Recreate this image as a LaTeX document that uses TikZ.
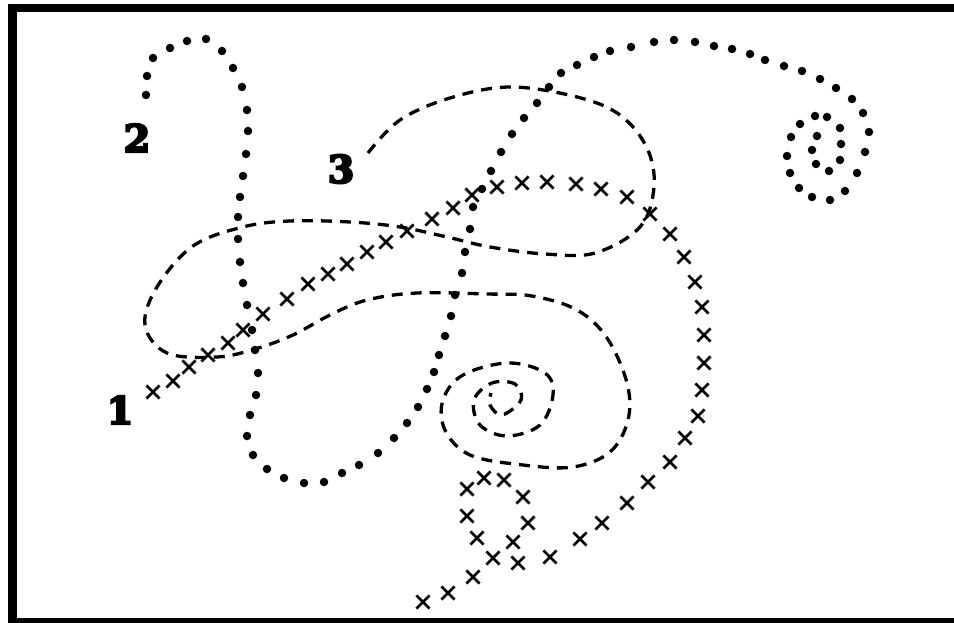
\documentclass[tikz,border=0pt]{standalone}
\usepackage{fontspec}
\newfontfamily\digitfont{DejaVu Serif}[BoldFeatures={FakeBold=6}]
\usetikzlibrary{shapes.misc}
\tikzset{
dotmark/.style={circle,fill,inner sep=0pt,minimum size=8.5pt},
crossmark/.style={cross out,draw,line width=2.7pt,inner sep=0pt,minimum size=10.5pt},
dashcurve/.style={line width=3.3pt,dash pattern=on 11pt off 8pt},
digit/.style={font=\digitfont\bfseries\fontsize{38}{38}\selectfont,inner sep=0pt}
}
\begin{document}
\begin{tikzpicture}[x=1pt,y=-1pt]
\useasboundingbox (0,0) rectangle (954,623);
\clip (0,0) rectangle (954,623);
\fill[white] (0,0) rectangle (954,623);
% frame
\draw[line width=8.5pt] (12.5,8) rectangle (962,622);
% labels
\node[digit] (one) at (120,410) {1};
\node[digit] (two) at (137,138) {2};
\node[digit] (three) at (341,169) {3};
% curve 1: crosses
\foreach \p [count=\i] in {(153,392),(173,381),(189,367),(208,355),(228,343),(243,330),(263,314),(287,299),(308,284),(328,274),(347,264),(367,252),(386,242),(407,231),(432,219),(453,208),(472,195),(497,187),(522,183),(547,182),(576,184),(601,189),(627,197),(650,214),(670,234),(684,257),(695,282),(702,307),(704,335),(704,363),(702,390),(698,416),(685,438),(670,462),(648,482),(627,503),(602,523),(580,539),(550,557),(518,563),(493,558),(477,538),(467,516),(467,489),(484,478),(504,480),(523,497),(528,523),(513,542),(473,577),(448,593),(423,602)}
  \node[crossmark] (c\i) at \p {};
% curve 2: dots
\foreach \p [count=\i] in {(146,95),(147,76),(153,58),(170,48),(187,41),(206,39),(222,51),(233,68),(242,87),(247,110),(248,131),(246,154),(243,176),(240,197),(238,217),(238,239),(240,262),(243,283),(247,305),(252,330),(255,350),(258,373),(256,395),(250,415),(247,436),(253,455),(267,469),(284,478),(304,483),(324,482),(342,473),(359,465),(378,453),(394,438),(407,423),(418,407),(427,389),(434,372),(439,355),(445,336),(451,316),(455,295),(462,273),(465,252),(470,229),(473,207),(482,189),(491,171),(501,152),(512,134),(524,118),(537,103),(549,87),(561,73),(577,65),(594,57),(610,51),(631,47),(654,42),(674,40),(695,42),(714,46),(732,49),(750,54),(765,60),(784,66),(802,71),(820,79),(836,88),(852,99),(863,113),(869,132),(865,152),(857,173),(845,191),(830,200),(812,197),(799,188),(790,173),(787,156),(791,137),(800,124),(815,116),(827,117),(840,128),(841,144),(840,160),(829,171),(816,164),(812,150),(817,136)}
  \node[dotmark] (d\i) at \p {};
% curve 3: dashed
\draw[dashcurve] plot[smooth,tension=.6] coordinates {(368,153) (400,120) (450,98) (510,87) (577,97) (620,115) (647,148) (654,187) (640,227) (595,253) (545,254) (490,247) (447,237) (400,227) (350,222) (290,221) (243,227) (193,246) (157,287) (145,325) (167,353) (217,357) (255,349) (293,335) (330,315) (367,300) (417,293) (487,294) (532,296) (577,310) (607,338) (627,383) (628,420) (610,452) (573,467) (523,465) (470,455) (445,430) (443,400) (463,375) (508,363) (545,373) (553,395) (540,425) (507,436) (480,425) (474,400) (492,383) (515,384) (521,400) (502,415) (490,405) (491,393)};
\end{tikzpicture}
\end{document}
